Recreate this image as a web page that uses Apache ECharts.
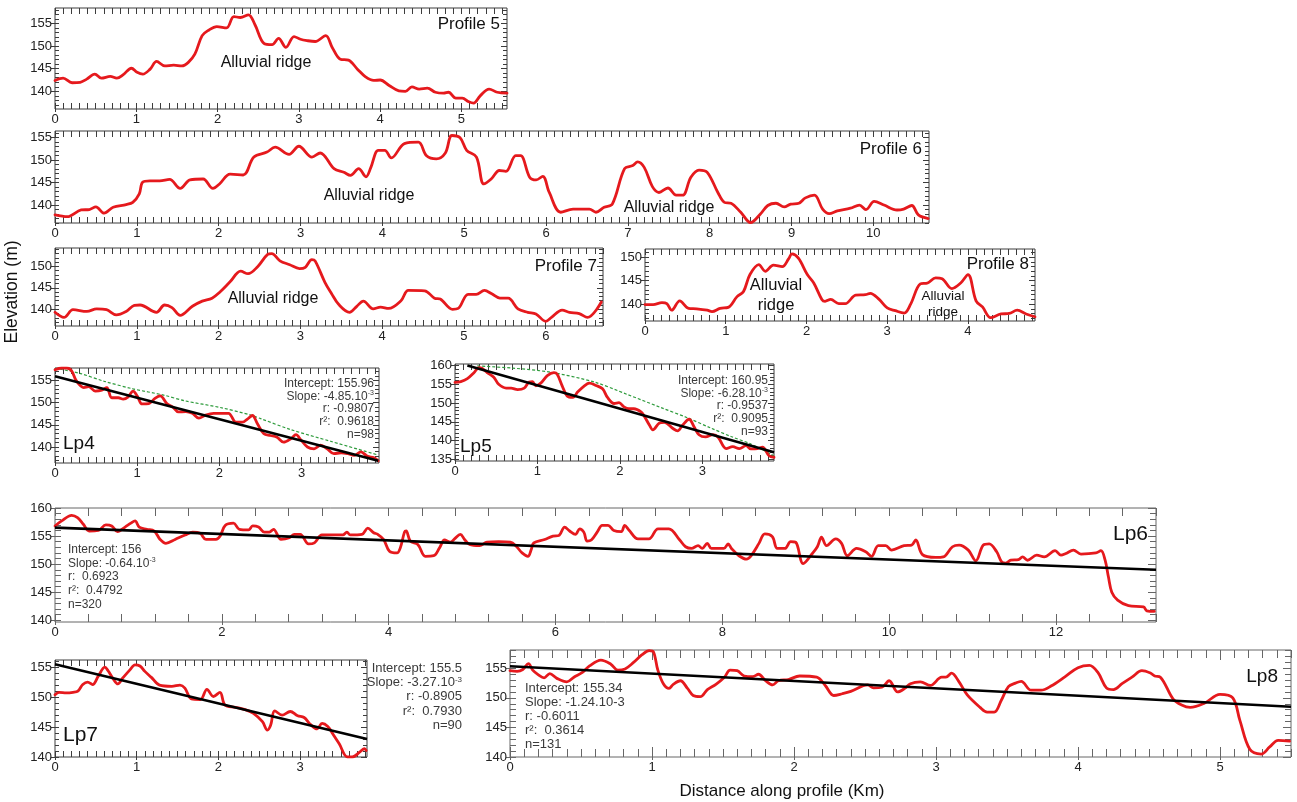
<!DOCTYPE html>
<html><head><meta charset="utf-8">
<script src="https://cdn.jsdelivr.net/npm/echarts@6/dist/echarts.min.js"></script>
<style>html,body{margin:0;padding:0;background:#fff}#c{width:1297px;height:802px}</style>
</head><body><div id="c"></div><script>
// ---------------- DATA ----------------
const p5XTicks=[0,1,2,3,4,5], p5YTicks=[140,145,150,155];
const p5X=[0,0.10,0.21,0.31,0.39,0.49,0.57,0.68,0.76,0.84,0.94,1.01,1.08,1.17,1.25,1.35,1.46,1.56,1.64,1.72,1.81,1.89,1.99,2.11,2.20,2.28,2.38,2.46,2.57,2.67,2.75,2.84,2.94,3.02,3.10,3.20,3.33,3.41,3.51,3.61,3.72,3.82,3.92,4.00,4.11,4.23,4.31,4.39,4.48,4.58,4.68,4.78,4.84,4.93,5.01,5.09,5.15,5.23,5.34,5.44,5.56];
const p5Y=[142.4,142.9,141.9,142.0,142.7,143.8,142.9,143.3,142.9,143.7,145.1,144.2,143.8,144.9,146.6,145.6,145.8,145.6,146.4,148.2,152.3,153.5,154.3,154.0,156.5,156.3,156.9,154.7,150.6,150.3,151.7,149.7,152.1,151.5,151.2,151.0,152.3,149.7,147.1,146.9,144.9,143.2,142.4,142.5,141.3,140.1,140.0,141.0,140.5,140.7,139.8,139.6,139.8,138.5,138.5,137.7,137.4,139.0,140.5,139.8,139.6];

const p6XTicks=[0,1,2,3,4,5,6,7,8,9,10], p6YTicks=[140,145,150,155];
const p6X=[0,0.15,0.32,0.42,0.50,0.60,0.71,0.87,0.95,1.03,1.07,1.16,1.28,1.40,1.53,1.65,1.81,1.93,2.01,2.14,2.30,2.43,2.59,2.69,2.86,2.98,3.14,3.24,3.41,3.53,3.61,3.71,3.80,3.86,3.95,4.03,4.11,4.27,4.44,4.54,4.66,4.77,4.85,4.95,5.03,5.15,5.24,5.33,5.43,5.51,5.63,5.69,5.80,5.88,5.96,6.04,6.18,6.33,6.43,6.53,6.61,6.71,6.81,6.96,7.06,7.12,7.20,7.30,7.38,7.49,7.59,7.67,7.77,7.87,7.97,8.10,8.18,8.26,8.38,8.50,8.62,8.71,8.81,8.91,8.99,9.09,9.17,9.28,9.38,9.46,9.56,9.72,9.83,9.91,10.01,10.13,10.29,10.37,10.47,10.55,10.67];
const p6Y=[137.8,137.4,138.9,139.0,139.6,138.2,139.5,140.1,140.6,142.5,145.1,145.4,145.4,145.7,143.7,145.6,145.8,143.7,144.7,146.9,146.7,150.7,151.8,152.9,151.3,153.1,150.7,151.6,148.1,147.3,146.6,148.1,146.3,148.4,152.2,152.2,150.5,153.7,154.0,151.0,150.3,151.6,155.5,155.0,152.2,150.7,144.7,145.8,147.7,147.5,151.0,151.0,146.2,145.6,146.4,142.8,138.4,139.1,139.1,139.1,138.4,139.5,140.2,148.1,148.8,149.6,148.4,144.1,142.8,143.8,142.2,142.2,146.2,147.8,147.3,142.8,140.6,140.4,138.4,136.1,138.0,139.9,140.4,139.6,140.2,140.4,141.6,142.2,139.1,138.1,138.7,139.3,140.0,139.0,140.8,140.0,138.9,139.1,139.9,137.8,137.0];

const p7XTicks=[0,1,2,3,4,5,6], p7YTicks=[140,145,150];
const p7X=[0,0.11,0.22,0.39,0.51,0.63,0.75,0.87,0.97,1.04,1.24,1.34,1.43,1.53,1.68,1.80,1.92,2.02,2.14,2.27,2.36,2.48,2.60,2.65,2.75,2.87,2.99,3.06,3.14,3.18,3.30,3.38,3.47,3.60,3.69,3.77,3.89,3.98,4.08,4.23,4.32,4.52,4.64,4.71,4.86,4.93,5.05,5.15,5.25,5.34,5.44,5.54,5.66,5.78,5.88,6.00,6.07,6.20,6.29,6.41,6.51,6.68];
const p7Y=[139.3,138.1,139.9,139.5,140.1,139.9,138.7,139.5,140.9,141.0,139.3,141.0,140.4,138.6,140.7,141.9,142.6,144.1,146.4,148.9,148.3,150.0,152.8,153.0,151.3,150.4,149.5,149.8,151.6,151.3,146.3,143.7,141.1,139.3,140.7,141.9,140.1,140.5,140.2,142.0,144.4,144.3,142.6,142.4,140.0,140.2,143.5,143.5,144.4,143.6,142.6,142.6,140.1,139.3,138.9,137.2,138.1,139.8,139.3,139.0,138.1,141.7];

const p8XTicks=[0,1,2,3,4], p8YTicks=[140,145,150];
const p8X=[0,0.10,0.21,0.27,0.33,0.43,0.54,0.64,0.77,0.83,0.93,1.03,1.14,1.22,1.30,1.41,1.49,1.59,1.70,1.78,1.82,1.90,2.01,2.09,2.19,2.23,2.30,2.40,2.48,2.61,2.73,2.79,2.90,3.00,3.10,3.21,3.29,3.41,3.50,3.60,3.68,3.80,3.91,4.00,4.10,4.18,4.28,4.41,4.51,4.61,4.72,4.83];
const p8Y=[139.9,139.9,140.3,140.1,138.7,140.7,139.1,139.0,138.7,138.4,139.1,139.3,141.6,142.7,146.3,148.4,147.0,148.3,148.0,149.7,150.7,149.8,146.3,144.5,141.0,140.6,141.0,140.1,140.1,141.9,142.0,142.3,141.0,139.2,138.6,138.1,140.0,144.3,144.5,145.6,145.4,143.3,144.5,146.3,140.7,139.4,137.1,137.9,138.0,138.7,137.9,137.3];

const lp4XTicks=[0,1,2,3], lp4YTicks=[140,145,150,155];
const lp4X=[0,0.08,0.14,0.20,0.26,0.35,0.41,0.49,0.57,0.63,0.69,0.77,0.83,0.89,0.95,1.00,1.06,1.14,1.22,1.28,1.36,1.44,1.50,1.59,1.67,1.75,1.83,1.93,2.03,2.11,2.20,2.28,2.34,2.40,2.46,2.54,2.62,2.70,2.78,2.87,2.93,2.99,3.07,3.15,3.23,3.31,3.39,3.48,3.56,3.64,3.72,3.80,3.88,3.93];
const lp4Y=[157.4,157.8,157.8,157.2,154.9,153.4,153.6,152.6,152.8,153.4,151.1,151.1,150.8,151.3,152.6,151.5,149.7,149.8,151.0,151.5,149.8,148.9,147.9,148.0,147.6,146.5,147.2,147.6,147.6,147.6,145.6,145.6,146.3,147.1,145.3,143.0,142.6,142.2,141.1,141.9,142.8,141.6,140.0,139.6,140.4,139.6,138.5,138.7,138.5,138.1,138.9,137.9,137.6,136.9];
const lp4FitX=[0,3.93], lp4FitY=[155.96,136.9];
const lp4EnvX=[0,0.3,0.6,0.95,1.32,1.58,2.01,2.38,2.5,2.87,3.35,3.93];
const lp4EnvY=[157.8,156.6,154.8,153.1,151.7,150.4,148.9,147.2,146.4,143.9,141.3,138.2];

const lp5XTicks=[0,1,2,3], lp5YTicks=[135,140,145,150,155,160];
const lp5X=[0,0.07,0.15,0.23,0.29,0.33,0.39,0.47,0.53,0.62,0.68,0.76,0.84,0.90,0.94,0.98,1.04,1.12,1.20,1.24,1.30,1.36,1.43,1.49,1.57,1.63,1.71,1.79,1.85,1.93,1.99,2.05,2.11,2.17,2.26,2.30,2.36,2.40,2.48,2.54,2.64,2.70,2.76,2.84,2.90,2.96,3.04,3.13,3.19,3.29,3.37,3.45,3.53,3.59,3.67,3.73,3.81,3.87];
const lp5Y=[155.5,155.7,156.5,158.1,159.4,159.2,158.1,156.9,155.0,154.0,154.0,153.6,154.0,155.6,155.7,154.6,155.3,157.3,158.1,157.7,154.6,151.9,151.5,153.0,154.6,155.3,154.7,153.8,151.5,149.9,150.1,149.0,148.5,148.5,147.6,146.4,144.1,142.9,144.7,144.9,143.3,142.6,144.1,145.7,143.7,141.6,141.0,141.6,141.0,137.9,138.4,137.9,138.7,137.8,137.9,138.3,136.0,135.6];
const lp5FitX=[0.15,3.87], lp5FitY=[160.0,136.9];
const lp5EnvX=[0.27,0.7,1.16,1.69,2.09,2.5,2.82,3.1,3.35,3.59,3.87];
const lp5EnvY=[159.9,159.3,158.2,155.6,152.3,148.8,146.1,143.4,141.1,139.1,136.0];

const lp6XTicks=[0,2,4,6,8,10,12], lp6YTicks=[140,145,150,155,160];
const lp6X=[0,0.08,0.20,0.27,0.34,0.41,0.52,0.61,0.68,0.75,0.84,0.91,0.96,1.01,1.10,1.19,1.26,1.33,1.44,1.56,1.65,1.74,1.81,1.93,1.98,2.04,2.14,2.21,2.32,2.37,2.44,2.51,2.57,2.62,2.71,2.81,2.87,2.94,3.04,3.11,3.20,3.34,3.45,3.50,3.54,3.68,3.75,3.82,3.87,3.94,4.01,4.10,4.14,4.19,4.21,4.26,4.35,4.44,4.54,4.61,4.67,4.74,4.79,4.86,4.91,4.97,5.09,5.18,5.32,5.46,5.53,5.60,5.67,5.71,5.74,5.87,5.97,6.04,6.11,6.17,6.24,6.29,6.34,6.38,
 6.43,6.50,6.56,6.63,6.70,6.79,6.83,6.88,6.99,7.12,7.23,7.36,7.49,7.56,7.63,7.71,7.76,7.82,7.87,8.02,8.07,8.11,8.20,8.29,8.35,8.44,8.51,8.60,8.66,8.75,8.82,8.88,8.97,9.08,9.14,9.19,9.25,9.36,9.43,9.50,9.61,9.72,9.79,9.87,9.96,10.03,10.18,10.27,10.32,10.40,10.56,10.65,10.76,10.84,10.95,11.04,11.13,11.20,11.29,11.35,11.40,11.46,11.55,11.60,11.66,11.77,11.86,11.99,12.06,12.12,12.21,12.30,12.48,12.54,12.59,12.63,12.67,12.74,12.87,13.05,13.09,13.18];
const lp6Y=[156.8,157.7,158.7,158.3,157.1,155.9,156.0,157.0,156.8,155.8,156.6,157.3,157.7,156.6,156.2,155.9,154.4,153.7,154.4,155.2,155.7,155.5,154.4,154.4,155.0,156.9,157.3,156.2,156.1,156.8,156.6,155.7,155.7,156.2,154.4,154.7,155.3,155.3,153.6,153.8,155.2,155.2,155.2,155.7,155.2,155.3,156.4,155.6,155.3,154.4,152.3,152.0,152.9,155.7,155.9,154.1,153.5,151.4,151.5,152.9,154.3,153.9,154.5,155.3,154.4,153.5,153.3,153.9,154.0,153.9,153.2,152.0,151.4,152.6,153.8,154.4,155.0,155.1,156.6,155.9,155.3,156.3,155.7,154.1,
 154.3,155.7,156.9,156.9,156.0,155.8,156.9,156.1,154.5,154.5,156.3,156.3,154.3,153.1,152.8,153.3,152.8,153.7,152.8,152.8,153.6,152.8,151.5,150.9,151.6,153.7,155.4,154.9,152.8,152.8,154.0,153.9,150.1,151.9,153.1,154.8,153.3,154.5,153.7,151.5,152.8,152.2,151.4,153.3,153.3,152.5,153.3,153.4,154.3,151.7,151.2,151.3,153.1,153.4,152.5,150.6,153.4,153.6,152.2,150.4,150.2,150.7,150.8,151.3,150.7,151.6,151.3,152.4,151.6,151.9,152.5,151.8,152.0,152.4,150.7,147.7,145.0,143.6,142.6,142.4,141.7,141.6];
const lp6FitX=[0,13.2], lp6FitY=[156.5,149.0];

const lp7XTicks=[0,1,2,3], lp7YTicks=[140,145,150,155];
const lp7X=[0,0.05,0.14,0.22,0.28,0.34,0.40,0.46,0.53,0.61,0.65,0.71,0.77,0.83,0.92,0.98,1.04,1.10,1.18,1.28,1.43,1.53,1.59,1.67,1.78,1.86,1.94,2.02,2.08,2.21,2.33,2.43,2.54,2.60,2.64,2.69,2.78,2.88,2.97,3.05,3.13,3.21,3.27,3.34,3.40,3.48,3.58,3.64,3.73,3.79,3.81];
const lp7Y=[150.4,150.8,150.7,150.8,151.0,152.1,152.5,152.1,153.5,155.0,154.4,153.1,152.2,153.2,154.6,155.4,155.2,154.3,153.3,152.0,151.8,152.0,151.5,149.7,149.6,151.3,150.1,150.8,148.7,148.3,147.9,147.3,145.9,144.5,145.3,147.7,147.0,147.6,146.9,146.6,145.4,144.7,145.6,145.1,143.9,142.2,140.0,140.0,140.8,141.4,141.1];
const lp7FitX=[0,3.82], lp7FitY=[155.5,143.0];

const lp8XTicks=[0,1,2,3,4,5], lp8YTicks=[140,145,150,155];
const lp8X=[0,0.05,0.09,0.13,0.16,0.20,0.24,0.28,0.33,0.40,0.45,0.51,0.56,0.64,0.71,0.76,0.81,0.87,0.93,0.98,1.01,1.04,1.08,1.12,1.15,1.20,1.25,1.29,1.34,1.39,1.45,1.51,1.55,1.60,1.65,1.71,1.75,1.80,1.85,1.89,1.96,2.04,2.16,2.22,2.28,2.34,2.40,2.52,2.56,2.62,2.67,2.73,2.78,2.82,2.89,2.96,3.04,3.07,3.11,3.16,3.22,3.31,3.36,3.41,3.46,3.51,3.56,3.60,3.67,3.74,3.81,3.91,4.00,4.08,4.14,4.20,4.25,4.31,4.38,4.45,4.51,4.54,4.58,4.67,4.73,4.79,4.89,5.00,5.09,5.14,5.21,5.29,5.35,5.41,5.49];
const lp8Y=[154.6,154.5,154.8,155.8,154.7,153.9,153.4,154.1,153.3,152.7,153.5,154.3,155.4,156.4,155.7,154.7,154.9,156.0,157.3,158.0,157.8,154.8,152.4,151.6,152.3,152.9,151.6,150.4,150.2,151.4,152.3,153.5,154.7,154.6,153.7,153.6,154.0,152.9,152.2,152.9,153.1,153.7,153.5,152.1,150.4,150.7,151.1,152.2,151.7,151.8,152.9,151.0,151.6,152.4,152.7,152.1,153.5,153.5,154.2,152.8,150.5,148.4,147.6,147.6,149.6,151.9,152.5,152.8,151.3,151.3,152.0,153.6,155.1,155.5,154.3,151.7,151.4,152.4,153.5,154.6,154.2,153.7,153.5,149.8,148.8,148.4,149.1,150.6,150.0,146.2,141.3,140.5,141.7,142.8,142.7];
const lp8FitX=[0,5.5], lp8FitY=[155.34,148.5];

// ---------------- LAYOUT / STYLE ----------------
const FONT='"Liberation Sans", Arial, Helvetica, sans-serif';
const RED='#e5191d';
function zip(xs,ys){const n=Math.min(xs.length,ys.length),o=[];for(let i=0;i<n;i++)o.push([xs[i],ys[i]]);return o;}
function steps(min,max,step){const o=[];const k0=Math.ceil(min/step-1e-6),k1=Math.floor(max/step+1e-6);for(let k=k0;k<=k1;k++)o.push(+(k*step).toFixed(4));return o;}

const panels=[
 {box:[55,8,452,101], xr:[0,5.56], yr:[136.1,158.4], xt:p5XTicks, yt:p5YTicks, xm:0.1, tl:6, ml:6, yml:4, red:[p5X,p5Y]},
 {box:[55,131,874,92], xr:[0,10.68], yr:[136.0,156.5], xt:p6XTicks, yt:p6YTicks, xm:0.1, tl:6, ml:6, yml:4, red:[p6X,p6Y]},
 {box:[55,248,548,78], xr:[0,6.7], yr:[136.1,154.3], xt:p7XTicks, yt:p7YTicks, xm:0.1, tl:6, ml:6, yml:4, red:[p7X,p7Y]},
 {box:[645,249,390,72], xr:[0,4.83], yr:[136.4,151.75], xt:p8XTicks, yt:p8YTicks, xm:0.1, tl:6, ml:6, yml:4, red:[p8X,p8Y]},
 {box:[55,368,324,95], xr:[0,3.94], yr:[136.4,157.8], xt:lp4XTicks, yt:lp4YTicks, xm:0.1, tl:6, ml:6, yml:4, red:[lp4X,lp4Y], fit:[lp4FitX,lp4FitY], env:[lp4EnvX,lp4EnvY]},
 {box:[455,364,319,97], xr:[0,3.87], yr:[134.6,160.4], xt:lp5XTicks, yt:lp5YTicks, xm:0.1, tl:6, ml:6, yml:4, red:[lp5X,lp5Y], fit:[lp5FitX,lp5FitY], env:[lp5EnvX,lp5EnvY]},
 {box:[55,508,1101,114], xr:[0,13.2], yr:[139.7,160], xt:lp6XTicks, yt:lp6YTicks, xm:0.4, tl:8, ml:8, yml:6, red:[lp6X,lp6Y], fit:[lp6FitX,lp6FitY], col:'#666'},
 {box:[55,660,312,97], xr:[0,3.82], yr:[140,156.2], xt:lp7XTicks, yt:lp7YTicks, xm:0.1, tl:6, ml:6, yml:4, red:[lp7X,lp7Y], fit:[lp7FitX,lp7FitY]},
 {box:[510,650,781,107], xr:[0,5.5], yr:[140,158.1], xt:lp8XTicks, yt:lp8YTicks, xm:0.1, tl:10, ml:8, yml:6, red:[lp8X,lp8Y], fit:[lp8FitX,lp8FitY], col:'#666'}
];

const grid=[],xAxis=[],yAxis=[],series=[];
panels.forEach((p,i)=>{
  const c=p.col||'#3c3c3c';
  grid.push({left:p.box[0],top:p.box[1],width:p.box[2],height:p.box[3],containLabel:false,outerBoundsMode:'none',
    show:true,borderColor:c,borderWidth:1,backgroundColor:'transparent'});
  const W=p.box[2], H=p.box[3];
  const xMinor=steps(p.xr[0],p.xr[1],p.xm), yMinor=steps(p.yr[0],p.yr[1],1);
  const base=(e)=>Object.assign({gridIndex:i,type:'value',silent:true,min:null,max:null,splitLine:{show:false},axisLabel:{show:false},axisTick:{show:false},axisLine:{show:false,onZero:false}},e);
  const xb=xAxis.length, yb=yAxis.length;
  const lab={show:true,fontSize:13,fontFamily:FONT,color:'#222'};
  const tk=(inside,len,vals)=>({show:true,inside:inside,length:len,customValues:vals,lineStyle:{color:c,width:1}});
  const X=(e)=>base(Object.assign({min:p.xr[0],max:p.xr[1],position:'bottom'},e));
  const Y=(e)=>base(Object.assign({min:p.yr[0],max:p.yr[1],position:'left'},e));
  // bottom: labels + short outside major ticks
  xAxis.push(X({axisTick:tk(false,3,p.xt),axisLabel:Object.assign({customValues:p.xt,margin:4},lab)}));
  // bottom inner ticks
  xAxis.push(X({axisTick:tk(true,p.ml,xMinor)}));
  xAxis.push(X({axisTick:tk(true,p.tl,p.xt)}));
  // top inner ticks (bottom axis shifted up by the grid height; outward ticks point into the frame)
  xAxis.push(X({offset:-H,axisTick:tk(false,p.ml,xMinor)}));
  xAxis.push(X({offset:-H,axisTick:tk(false,p.tl,p.xt)}));
  // left: labels + short outside ticks
  yAxis.push(Y({axisTick:tk(false,4,p.yt),axisLabel:Object.assign({customValues:p.yt,margin:3},lab)}));
  yAxis.push(Y({axisTick:tk(true,p.yml,yMinor)}));
  // right inner ticks (left axis shifted right by the grid width)
  yAxis.push(Y({offset:-W,axisTick:tk(false,p.yml,yMinor)}));
  yAxis.push(Y({offset:-W,axisTick:tk(false,p.yml+2,p.yt)}));
  if(p.env){
    series.push({type:'line',xAxisIndex:xb,yAxisIndex:yb,data:zip(p.env[0],p.env[1]),symbol:'none',smooth:0.3,clip:true,
      lineStyle:{color:'#2e9b3c',width:1.2,type:[3,2]},z:2,silent:true});
  }
  series.push({type:'line',xAxisIndex:xb,yAxisIndex:yb,data:zip(p.red[0],p.red[1]),symbol:'none',smooth:0.35,clip:true,
    lineStyle:{color:RED,width:2.8,cap:'round',join:'round'},z:3,silent:true});
  if(p.fit){
    series.push({type:'line',xAxisIndex:xb,yAxisIndex:yb,data:zip(p.fit[0],p.fit[1]),symbol:'none',clip:true,
      lineStyle:{color:'#000',width:2.6},z:4,silent:true});
  }
});

// ---------------- TEXT ----------------
function T(text,x,y,size,align,extra){
  return {type:'text',x:x,y:y,silent:true,z:100,style:Object.assign({text:text,fontSize:size,fontFamily:FONT,fill:'#111',align:align||'left',verticalAlign:'middle'},extra||{})};
}
function stats(lines,x,y,size,align,lh,color){
  return {type:'text',x:x,y:y,silent:true,z:100,style:{text:lines.join('\n'),fontSize:size,fontFamily:FONT,fill:color,align:align,verticalAlign:'top',lineHeight:lh,
    rich:{s:{fontSize:Math.round(size*0.6),fontFamily:FONT,fill:color,verticalAlign:'top',lineHeight:Math.round(size*0.65)}}}};
}
const SC='#3a3a3a';
const graphics=[
  T('Profile 5',500,24,17,'right'),
  T('Profile 6',922,149,17,'right'),
  T('Profile 7',597,266,17,'right'),
  T('Profile 8',1029,264,17,'right'),
  T('Alluvial ridge',266,63,16,'center'),
  T('Alluvial ridge',369,196,16,'center'),
  T('Alluvial ridge',669,208,16,'center'),
  T('Alluvial ridge',273,299,16,'center'),
  T('Alluvial\nridge',776,295,16.5,'center',{lineHeight:20}),
  T('Alluvial\nridge',943,304,13.5,'center',{lineHeight:16}),
  T('Lp4',63,444,19,'left'),
  T('Lp5',460,447,19,'left'),
  T('Lp6',1148,534,21,'right'),
  T('Lp7',63,735,21,'left'),
  T('Lp8',1278,677,19,'right'),
  stats(['Intercept: 155.96','Slope: -4.85.10{s|-3}','r: -0.9807','r²:  0.9618','n=98'],374,377,12,'right',12.8,SC),
  stats(['Intercept: 160.95','Slope: -6.28.10{s|-3}','r: -0.9537','r²:  0.9095','n=93'],768,374,12,'right',12.8,SC),
  stats(['Intercept: 156','Slope: -0.64.10{s|-3}','r:  0.6923','r²:  0.4792','n=320'],68,543,12,'left',13.6,SC),
  stats(['Intercept: 155.5','Slope: -3.27.10{s|-3}','r: -0.8905','r²:  0.7930','n=90'],462,661,13,'right',14.3,SC),
  stats(['Intercept: 155.34','Slope: -1.24.10-3','r: -0.6011','r²:  0.3614','n=131'],525,681,13,'left',14.2,SC),
  Object.assign(T('Elevation (m)',12,292,17.5,'center'),{rotation:Math.PI/2}),
  T('Distance along profile (Km)',782,791,17,'center')
];

const chart=echarts.init(document.getElementById('c'),null,{renderer:'canvas'});
chart.setOption({animation:false,backgroundColor:'#fff',grid:grid,xAxis:xAxis,yAxis:yAxis,series:series,graphic:{elements:graphics}});
</script></body></html>
